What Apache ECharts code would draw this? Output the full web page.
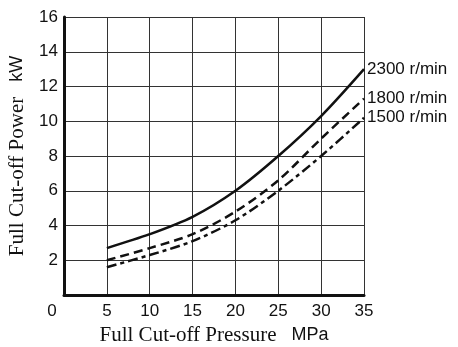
<!DOCTYPE html>
<html>
<head>
<meta charset="utf-8">
<script src="https://cdn.jsdelivr.net/npm/echarts@6/dist/echarts.min.js"></script>
<style>
  html, body { margin: 0; padding: 0; background: #fff; }
  #chart { width: 458px; height: 347px; }
</style>
</head>
<body>
<div id="chart"></div>
<script>
// 数据
var pressure = [5, 10, 15, 20, 25, 30, 35];
var power2300 = [2.7, 3.5, 4.5, 6.0, 8.0, 10.3, 13.0];
var power1800 = [2.0, 2.7, 3.5, 4.8, 6.6, 9.0, 11.3];
var power1500 = [1.6, 2.3, 3.1, 4.3, 6.0, 8.0, 10.2];
var speedNames = ['2300 r/min', '1800 r/min', '1500 r/min'];

function pairs(xs, ys) {
    var out = [];
    for (var i = 0; i < xs.length; i++) {
        out.push([xs[i], ys[i]]);
    }
    return out;
}

function makeSeries(name, values, dash) {
    return {
        name: name,
        type: 'line',
        smooth: 0.3,
        symbol: 'none',
        data: pairs(pressure, values),
        lineStyle: { color: '#111', width: 2.5, type: dash },
        endLabel: {
            show: true,
            formatter: name,
            color: '#111',
            fontFamily: 'Liberation Sans',
            fontSize: 17,
            distance: 3
        }
    };
}

var serif = { fontFamily: 'Liberation Serif', fontSize: 21, color: '#111' };
var sans = { fontFamily: 'Liberation Sans', fontSize: 18, color: '#111' };

var chart = echarts.init(document.getElementById('chart'));
var option = {
    animation: false,
    grid: { left: 64, right: 94, top: 17, bottom: 52, containLabel: false, outerBoundsMode: 'none' },
    xAxis: {
        type: 'value',
        min: 0,
        max: 35,
        interval: 5,
        name: '{a|Full Cut-off Pressure}{u|   MPa}',
        nameLocation: 'middle',
        nameGap: 22,
        nameTextStyle: { rich: { a: serif, u: sans } },
        axisLine: { show: true, lineStyle: { color: '#111', width: 3 } },
        axisTick: { show: false },
        axisLabel: {
            margin: 8,
            fontFamily: 'Liberation Sans',
            fontSize: 17,
            color: '#111',
            formatter: function (v) { return v === 0 ? '{z|0}' : v; },
            rich: { z: { fontFamily: 'Liberation Sans', fontSize: 17, color: '#111', padding: [0, 24, 0, 0] } }
        },
        splitLine: { show: true, lineStyle: { color: '#333', width: 1 } }
    },
    yAxis: {
        type: 'value',
        min: 0,
        max: 16,
        interval: 2,
        name: '{a|Full Cut-off Power}{u|   kW}',
        nameLocation: 'middle',
        nameGap: 36,
        nameTextStyle: { rich: { a: serif, u: sans } },
        axisLine: { show: true, lineStyle: { color: '#111', width: 3 } },
        axisTick: { show: false },
        axisLabel: {
            margin: 6,
            fontFamily: 'Liberation Sans',
            fontSize: 17,
            color: '#111',
            formatter: function (v) { return v === 0 ? '' : v; }
        },
        splitLine: { show: true, lineStyle: { color: '#333', width: 1 } }
    },
    series: [
        makeSeries(speedNames[0], power2300, 'solid'),
        makeSeries(speedNames[1], power1800, [9, 5]),
        makeSeries(speedNames[2], power1500, [10, 4, 4, 4])
    ]
};
chart.setOption(option);
</script>
</body>
</html>
